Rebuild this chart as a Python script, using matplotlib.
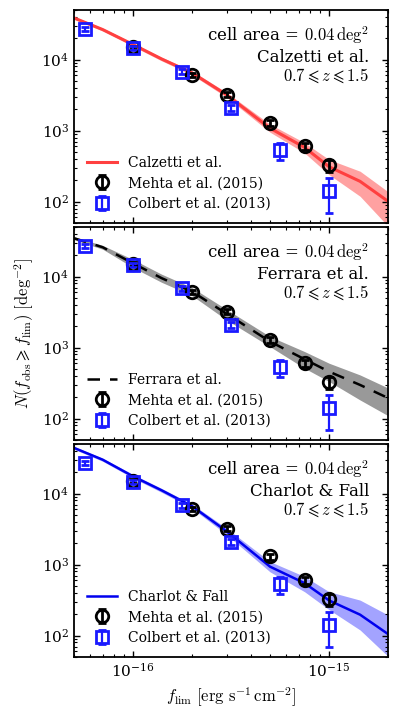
import matplotlib
matplotlib.use("Agg")
import matplotlib.pyplot as plt
from matplotlib.ticker import LogLocator, NullFormatter, LogFormatterSciNotation

plt.rcParams['font.family'] = ['DejaVu Serif']
plt.rcParams['mathtext.fontset'] = 'cm'

# ---- data ----
flux_model = [5e-17, 7e-17, 1e-16, 1.4e-16, 2e-16, 3e-16, 5e-16, 7.5e-16, 1e-15, 1.44e-15, 2e-15]

calz_med = [38600, 26500, 16300, 10200, 6500, 3200, 1080, 580, 310, 193, 101]
calz_lo = [37000, 25300, 15400, 9600, 6100, 2950, 950, 485, 240, 119, 45]
calz_hi = [40500, 27800, 17200, 10800, 6950, 3450, 1230, 676, 391, 268, 138]

ferr_med = [34700, 25900, 15400, 9500, 6150, 3000, 1217, 686, 459, 298, 195]
ferr_lo = [33000, 24300, 13400, 8300, 5400, 2450, 1030, 512, 333, 183, 110]
ferr_hi = [36500, 27500, 17400, 10800, 7000, 3450, 1430, 880, 603, 412, 270]

cf_med = [44000, 30000, 17500, 11100, 6640, 2950, 935, 548, 313, 197, 105]
cf_lo = [42000, 28500, 16500, 10400, 6200, 2650, 790, 415, 232, 120, 51]
cf_hi = [46000, 31500, 18600, 11800, 7100, 3250, 1100, 680, 415, 316, 195]

mehta_flux = [1e-16, 2e-16, 3e-16, 5e-16, 7.5e-16, 1e-15]
mehta_N = [15000, 6000, 3200, 1300, 600, 325]
mehta_err = [800, 400, 250, 130, 70, 65]

colbert_flux = [5.7e-17, 1e-16, 1.77e-16, 3.16e-16, 5.6e-16, 1e-15]
colbert_N = [27000, 14600, 6800, 2090, 528, 143]
colbert_err = [2000, 1000, 600, 200, 140, 73]

x_major_ticks = [1e-16, 1e-15]
y_major_ticks = [1e2, 1e3, 1e4]

models = [
    ("Calzetti et al.", calz_med, calz_lo, calz_hi),
    ("Ferrara et al.", ferr_med, ferr_lo, ferr_hi),
    ("Charlot & Fall", cf_med, cf_lo, cf_hi),
]
line_styles = [
    dict(color='#ff4040', ls='-', lw=2.2),
    dict(color='black', ls='--', lw=1.8, dashes=(5, 4)),
    dict(color='#0000ee', ls='-', lw=1.8),
]
band_colors = [('#ff3030', 0.45), ('#555555', 0.6), ('#3333ff', 0.45)]

fig = plt.figure(figsize=(3.98, 7.18), dpi=100)
left, width, h = 0.186, 0.789, 0.2967
bottoms = [0.6894, 0.3872, 0.085]

axes = []
for i, (name, med, lo, hi) in enumerate(models):
    ax = fig.add_axes([left, bottoms[i], width, h])
    axes.append(ax)
    bc, ba = band_colors[i]
    ax.fill_between(flux_model, lo, hi, color=bc, alpha=ba, lw=0)
    ax.plot(flux_model, med, label=name, **line_styles[i])
    ax.errorbar(mehta_flux, mehta_N, yerr=mehta_err, fmt='o', mfc='none',
                mec='black', ecolor='black', mew=2, ms=9, elinewidth=2,
                capsize=3, capthick=1.5, label='Mehta et al. (2015)')
    ax.errorbar(colbert_flux, colbert_N, yerr=colbert_err, fmt='s', mfc='none',
                mec='#1a1aff', ecolor='#1a1aff', mew=2, ms=9, elinewidth=1.6,
                capsize=3, capthick=1.6, label='Colbert et al. (2013)')
    ax.set_xscale('log')
    ax.set_yscale('log')
    ax.set_xticks(x_major_ticks)
    ax.set_yticks(y_major_ticks)
    ax.xaxis.set_minor_locator(LogLocator(base=10, subs=range(2, 10)))
    ax.yaxis.set_minor_locator(LogLocator(base=10, subs=range(2, 10)))
    ax.xaxis.set_minor_formatter(NullFormatter())
    ax.yaxis.set_minor_formatter(NullFormatter())
    ax.xaxis.set_major_formatter(LogFormatterSciNotation())
    ax.yaxis.set_major_formatter(LogFormatterSciNotation())
    ax.set_xlim(5e-17, 2e-15)
    ax.set_ylim(50, 5e4)
    ax.tick_params(which='both', direction='in', top=True, right=True, labelsize=11)
    ax.tick_params(which='major', length=4.5, width=1)
    ax.tick_params(which='minor', length=2.5, width=0.8)
    for sp in ax.spines.values():
        sp.set_linewidth(1.3)
    ax.text(0.94, 0.882, r'cell area = $0.04\,\mathrm{deg}^2$', transform=ax.transAxes,
            ha='right', va='center', fontsize=12)
    ax.text(0.94, 0.778, name, transform=ax.transAxes, ha='right', va='center', fontsize=12)
    ax.text(0.94, 0.69, r'$0.7\leqslant z\leqslant 1.5$', transform=ax.transAxes,
            ha='right', va='center', fontsize=12)
    ax.legend(loc='lower left', frameon=False, fontsize=10, numpoints=1,
              handlelength=2.2, borderaxespad=0.5, labelspacing=0.45)
    if i < 2:
        ax.tick_params(labelbottom=False)

axes[1].set_ylabel(r'$N(f_{\rm obs}\geqslant f_{\rm lim})\ [\mathrm{deg}^{-2}]$', fontsize=12)
axes[2].set_xlabel(r'$f_{\rm lim}\ [\mathrm{erg\ s^{-1}\,cm^{-2}}]$', fontsize=12)

fig.savefig('out.png', dpi=100)
